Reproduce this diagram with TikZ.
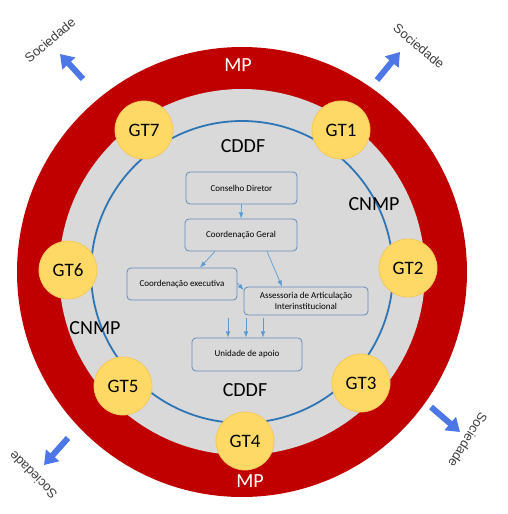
\documentclass[tikz,border=0pt]{standalone}
\usepackage{fontspec}
\setmainfont{Carlito}
\newfontfamily\socfont{Liberation Sans}
\usetikzlibrary{arrows.meta}

\definecolor{mpred}{RGB}{192,0,0}
\definecolor{cddfgray}{RGB}{217,217,217}
\definecolor{ringblue}{RGB}{46,117,182}
\definecolor{gtyellow}{RGB}{255,217,102}
\definecolor{gtborder}{RGB}{244,200,90}
\definecolor{boxblue}{RGB}{100,140,190}
\definecolor{flowblue}{RGB}{91,155,213}
\definecolor{socblue}{RGB}{77,119,230}
\definecolor{soctext}{RGB}{64,64,64}

\begin{document}
\begin{tikzpicture}[x=1pt,y=-1pt,>=Latex,
    gt/.style={circle, fill=gtyellow, draw=gtborder, line width=0.8pt,
        minimum size=58pt, inner sep=0pt, font=\fontsize{19}{19}\selectfont},
    orgbox/.style={draw=boxblue, rounded corners=4pt, line width=0.8pt,
        align=center, inner sep=2pt, font=\fontsize{9}{11}\selectfont},
    flow/.style={->, flowblue, line width=0.7pt},
    bigtext/.style={font=\fontsize{20}{20}\selectfont},
    soc/.style={text=soctext, font=\socfont\fontsize{13}{13}\selectfont},
    socarrow/.style={-{Triangle[width=17pt,length=13pt]}, socblue, line width=6pt}]

% Picture frame, in pixels of the reference
\useasboundingbox (0,0) rectangle (508,514);

% Centre of the rings
\coordinate (c) at (242,272);

% MP ring, CDDF disc and CNMP circle
\fill[mpred] (c) circle[radius=225pt];
\fill[cddfgray] (c) circle[radius=183pt];
\draw[ringblue, line width=1.8pt] (c) circle[radius=151pt];

% MP labels
\node[bigtext, text=white] (mptop) at (238,65) {MP};
\node[bigtext, text=white] (mpbot) at (250,481) {MP};

% CDDF and CNMP labels
\node[bigtext] (cddftop) at (243,146) {CDDF};
\node[bigtext] (cddfbot) at (245,390) {CDDF};
\node[bigtext] (cnmpr) at (374,204) {CNMP};
\node[bigtext] (cnmpl) at (95,328) {CNMP};

% Working groups
\node[gt] (gt1) at (341,130) {GT1};
\node[gt] (gt2) at (408,268) {GT2};
\node[gt] (gt3) at (361,383) {GT3};
\node[gt] (gt4) at (245,441) {GT4};
\node[gt] (gt5) at (123,386) {GT5};
\node[gt] (gt6) at (68,270) {GT6};
\node[gt] (gt7) at (144,130) {GT7};

% Organisation chart
\node[orgbox, minimum width=111pt, minimum height=32pt] (cons) at (241.5,188) {Conselho Diretor};
\node[orgbox, minimum width=112pt, minimum height=32pt] (geral) at (241,235) {Coordenação Geral};
\node[orgbox, minimum width=110pt, minimum height=32pt] (exec) at (182,284) {Coordenação executiva};
\node[orgbox, minimum width=124pt, minimum height=28pt] (asse) at (306,301)
    {Assessoria de Articulação\\Interinstitucional};
\node[orgbox, minimum width=110pt, minimum height=33pt] (unid) at (247,354.5) {Unidade de apoio};

\draw[flow] (cons.south) -- (geral.north);
\draw[flow] ([xshift=-26pt]geral.south) -- ([xshift=18pt]exec.north);
\draw[flow] ([xshift=26pt]geral.south) -- ([xshift=-24pt]asse.north);
\draw[flow] ([yshift=1pt]exec.east) -- ([yshift=11pt]asse.west);

% Arrows into the support unit
\coordinate (u1) at (228,318);
\coordinate (u2) at (246,318);
\coordinate (u3) at (263,318);
\draw[flow] (u1) -- (u1 |- unid.north);
\draw[flow] (u2) -- (u2 |- unid.north);
\draw[flow] (u3) -- (u3 |- unid.north);

% Society, outside the rings
\coordinate (s1a) at (83,79);   \coordinate (s1b) at (60,54);
\coordinate (s2a) at (377,80);  \coordinate (s2b) at (400,52);
\coordinate (s3a) at (431,407); \coordinate (s3b) at (460,432);
\coordinate (s4a) at (68,438);  \coordinate (s4b) at (44,465);
\draw[socarrow] (s1a) -- (s1b);
\draw[socarrow] (s2a) -- (s2b);
\draw[socarrow] (s3a) -- (s3b);
\draw[socarrow] (s4a) -- (s4b);

\node[soc, rotate=40] (soc1) at (50,40) {Sociedade};
\node[soc, rotate=-40] (soc2) at (419,46) {Sociedade};
\node[soc, rotate=-122] (soc3) at (468,440) {Sociedade};
\node[soc, rotate=135] (soc4) at (33,475) {Sociedade};

\end{tikzpicture}
\end{document}
